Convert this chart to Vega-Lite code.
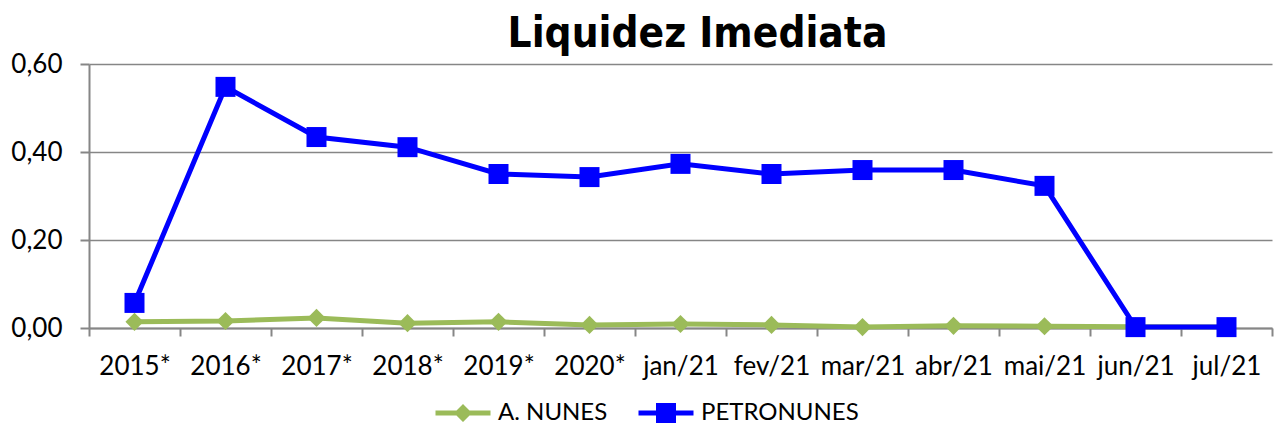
{
  "$schema": "https://vega.github.io/schema/vega-lite/v6.json",
  "autosize": {"type": "none"},
  "width": 1183,
  "height": 264,
  "padding": {"left": 89, "top": 64, "right": 8, "bottom": 99},
  "background": "white",
  "title": {
    "text": "Liquidez Imediata",
    "font": "DejaVu Sans Condensed, DejaVu Sans",
    "fontSize": 42,
    "fontWeight": "bold",
    "color": "#000000",
    "anchor": "middle",
    "baseline": "bottom",
    "dx": 17,
    "dy": 47,
    "offset": 0
  },
  "data": {
    "values": [
      {"periodo": "2015*", "empresa": "A. NUNES", "valor": 0.014},
      {"periodo": "2016*", "empresa": "A. NUNES", "valor": 0.016},
      {"periodo": "2017*", "empresa": "A. NUNES", "valor": 0.023},
      {"periodo": "2018*", "empresa": "A. NUNES", "valor": 0.011},
      {"periodo": "2019*", "empresa": "A. NUNES", "valor": 0.014},
      {"periodo": "2020*", "empresa": "A. NUNES", "valor": 0.007},
      {"periodo": "jan/21", "empresa": "A. NUNES", "valor": 0.009},
      {"periodo": "fev/21", "empresa": "A. NUNES", "valor": 0.007},
      {"periodo": "mar/21", "empresa": "A. NUNES", "valor": 0.002},
      {"periodo": "abr/21", "empresa": "A. NUNES", "valor": 0.005},
      {"periodo": "mai/21", "empresa": "A. NUNES", "valor": 0.004},
      {"periodo": "jun/21", "empresa": "A. NUNES", "valor": 0.003},
      {"periodo": "jul/21", "empresa": "A. NUNES", "valor": 0.002},
      {"periodo": "2015*", "empresa": "PETRONUNES", "valor": 0.057},
      {"periodo": "2016*", "empresa": "PETRONUNES", "valor": 0.548},
      {"periodo": "2017*", "empresa": "PETRONUNES", "valor": 0.434},
      {"periodo": "2018*", "empresa": "PETRONUNES", "valor": 0.411},
      {"periodo": "2019*", "empresa": "PETRONUNES", "valor": 0.35},
      {"periodo": "2020*", "empresa": "PETRONUNES", "valor": 0.343},
      {"periodo": "jan/21", "empresa": "PETRONUNES", "valor": 0.373},
      {"periodo": "fev/21", "empresa": "PETRONUNES", "valor": 0.35},
      {"periodo": "mar/21", "empresa": "PETRONUNES", "valor": 0.359},
      {"periodo": "abr/21", "empresa": "PETRONUNES", "valor": 0.359},
      {"periodo": "mai/21", "empresa": "PETRONUNES", "valor": 0.323},
      {"periodo": "jun/21", "empresa": "PETRONUNES", "valor": 0.002},
      {"periodo": "jul/21", "empresa": "PETRONUNES", "valor": 0.002}
    ]
  },
  "encoding": {
    "x": {
      "field": "periodo",
      "type": "nominal",
      "sort": null,
      "scale": {"paddingInner": 0, "paddingOuter": 0},
      "axis": {
        "title": null,
        "labelAngle": 0,
        "labelFont": "Lato",
        "labelFontSize": 26,
        "labelColor": "#000000",
        "labelPadding": 17,
        "tickBand": "extent",
        "tickSize": 8,
        "tickColor": "#868686",
        "tickWidth": 2,
        "domainColor": "#868686",
        "domainWidth": 2,
        "grid": false
      }
    },
    "y": {
      "field": "valor",
      "type": "quantitative",
      "scale": {"domain": [0, 0.6], "nice": false},
      "axis": {
        "title": null,
        "values": [0, 0.2, 0.4, 0.6],
        "labelExpr": "replace(format(datum.value, '.2f'), '.', ',')",
        "labelFont": "Lato",
        "labelFontSize": 26,
        "labelColor": "#000000",
        "labelPadding": 18,
        "tickSize": 9,
        "tickColor": "#868686",
        "tickWidth": 2,
        "domainColor": "#868686",
        "domainWidth": 2,
        "grid": true,
        "gridColor": "#868686",
        "gridWidth": 1.5
      }
    },
    "color": {
      "field": "empresa",
      "type": "nominal",
      "scale": {"domain": ["A. NUNES", "PETRONUNES"], "range": ["#9BBB59", "#0000FF"]},
      "legend": {
        "title": null,
        "orient": "none",
        "legendX": 362,
        "legendY": 337,
        "direction": "horizontal",
        "padding": 0,
        "labelFont": "Lato",
        "labelFontSize": 24,
        "labelColor": "#000000",
        "labelOffset": 23,
        "labelLimit": 400,
        "symbolSize": 400,
        "symbolStrokeWidth": 0,
        "symbolOpacity": 1,
        "symbolType": {"expr": "datum.value === 'A. NUNES' ? 'M-2.75,-0.25H2.75V0.25H-2.75Z M0,-0.9L0.9,0L0,0.9L-0.9,0Z' : 'M-2.75,-0.25H2.75V0.25H-2.75Z M-1,-1H1V1H-1Z'"},
        "columnPadding": 30
      }
    }
  },
  "layer": [
    {
      "mark": {"type": "line", "strokeWidth": 5}
    },
    {
      "transform": [{"filter": "datum.empresa === 'A. NUNES'"}],
      "mark": {"type": "point", "filled": true, "opacity": 1, "shape": "diamond", "size": 330}
    },
    {
      "transform": [{"filter": "datum.empresa === 'PETRONUNES'"}],
      "mark": {"type": "point", "filled": true, "opacity": 1, "shape": "square", "size": 400}
    }
  ],
  "config": {"view": {"stroke": null}}
}
